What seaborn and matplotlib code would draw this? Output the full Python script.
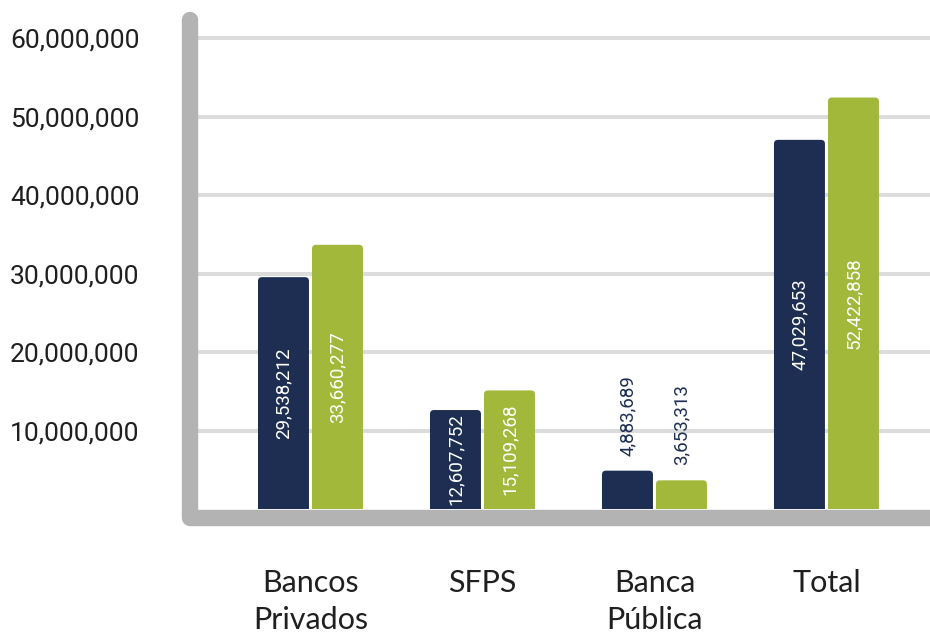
import matplotlib
matplotlib.use("Agg")
import matplotlib.pyplot as plt
import numpy as np
import pandas as pd
import seaborn as sns
from matplotlib.patches import FancyBboxPatch
from matplotlib.lines import Line2D
from matplotlib.ticker import FuncFormatter

# --- data -------------------------------------------------------------
categories = ["Bancos\nPrivados", "SFPS", "Banca\nPública", "Total"]
series_names = ["Serie 1", "Serie 2"]
values_serie_1 = [29538212, 12607752, 4883689, 47029653]
values_serie_2 = [33660277, 15109268, 3653313, 52422858]
ytick_values = [10_000_000, 20_000_000, 30_000_000, 40_000_000, 50_000_000, 60_000_000]

NAVY = "#1d2e52"
GREEN = "#a2b83a"
AXIS_GREY = "#b3b3b3"
GRID_GREY = "#dcdcdc"

df = pd.DataFrame({
    "categoria": categories * 2,
    "serie": [series_names[0]] * len(categories) + [series_names[1]] * len(categories),
    "valor": values_serie_1 + values_serie_2,
})

sns.set_theme(style="white")
plt.rcParams["font.family"] = ["Roboto", "DejaVu Sans"]

W, H = 930, 634
fig = plt.figure(figsize=(W / 100, H / 100), dpi=100)
ax = fig.add_axes([198 / W, 1 - 509 / H, (W - 198) / W, (509 - 20) / H])

sns.barplot(data=df, x="categoria", y="valor", hue="serie",
            palette=[NAVY, GREEN], saturation=1, width=0.628, gap=0.056,
            legend=False, ax=ax, zorder=2)

ax.set_xlim(-0.654, 3.602)
ax.set_ylim(0, 62.3e6)
ax.set_yticks(ytick_values)
ax.yaxis.set_major_formatter(FuncFormatter(lambda v, _: f"{v:,.0f}"))
ax.grid(axis="y", color=GRID_GREY, lw=2.9, zorder=0)
ax.grid(axis="x", visible=False)
ax.set_axisbelow(True)
ax.tick_params(axis="y", length=0, pad=42, labelsize=19, labelcolor="#1f1f1f")
ax.tick_params(axis="x", length=0, pad=43, labelsize=22, labelcolor="#1f1f1f")
for lab in ax.get_yticklabels():
    lab.set_va("center_baseline")
for lab in ax.get_xticklabels():
    lab.set_fontfamily(["Lato", "DejaVu Sans"])
    lab.set_linespacing(1.4)
ax.set_xlabel("")
ax.set_ylabel("")
for s in ax.spines.values():
    s.set_visible(False)

# --- bars with rounded tops and their value labels ----------------------
x0, y0 = ax.transData.transform((0, 0))
x1, y1 = ax.transData.transform((1, 1e6))
px_x = x1 - x0          # pixels per category unit
px_y = (y1 - y0) / 1e6  # pixels per value unit
radius_px = 4
rx = radius_px / px_x
ry = radius_px / px_y

for container, values in zip(ax.containers, [values_serie_1, values_serie_2]):
    for bar, v in zip(container.patches, values):
        bx, bw, bh = bar.get_x(), bar.get_width(), bar.get_height()
        bar.set_visible(False)
        rounded = FancyBboxPatch(
            (bx, -3 * ry), bw, bh + 3 * ry,
            boxstyle=f"round,pad=0,rounding_size={rx}",
            mutation_aspect=ry / rx,
            facecolor=bar.get_facecolor(), edgecolor="none", zorder=2)
        ax.add_patch(rounded)
        cx = bx + bw / 2
        text = f"{v:,}"
        if v >= 8_000_000:
            ax.text(cx, v / 2, text, rotation=90, ha="center", va="center",
                    color="white", fontsize=13.5)
        else:
            ax.annotate(text, (cx, v), xytext=(0, 15), textcoords="offset pixels",
                        rotation=90, ha="center", va="bottom",
                        color=NAVY, fontsize=13.5)

# --- thick L-shaped axis frame ----------------------------------------
frame = Line2D([190 / W, 190 / W, 1.05], [1 - 20 / H, 1 - 517.5 / H, 1 - 517.5 / H],
               transform=fig.transFigure, color=AXIS_GREY, lw=11.8,
               solid_capstyle="round", solid_joinstyle="round",
               clip_on=False, zorder=5)
ax.add_line(frame)

fig.savefig("out.png", dpi=100)
